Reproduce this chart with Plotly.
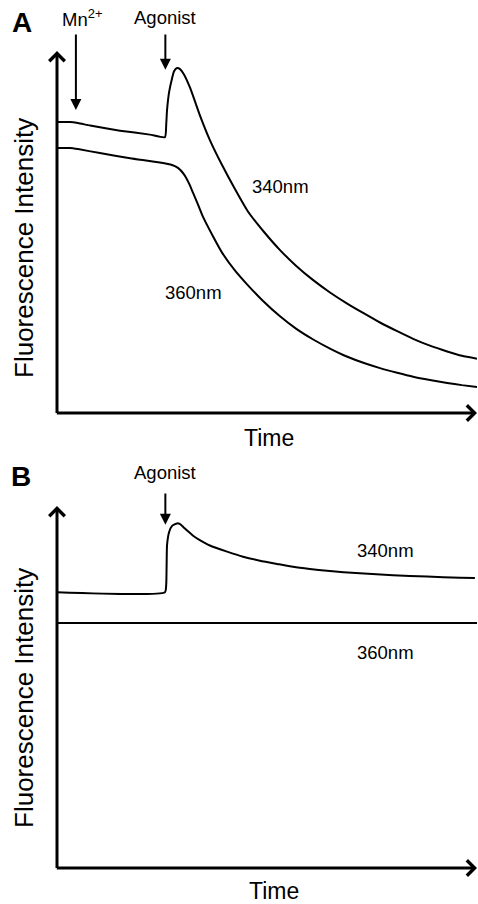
import plotly.graph_objects as go

# ---------------- data (arbitrary units: time 0-100, intensity 0-100) ----------------
# Panel A
tA340 = [0, 3.1, 5.0, 7.9, 15.0, 22.1, 25.7, 26.0, 26.2, 26.7, 27.4, 27.9, 28.6, 29.3, 30.2,
         31.7, 34.0, 36.4, 39.3, 42.4, 45.5, 49.3, 53.1, 56.9, 61.0, 65.0, 69.0, 73.1, 76.9,
         81.0, 84.8, 88.8, 92.9, 96.4, 100]
vA340 = [80.4, 80.4, 80.1, 79.4, 78.0, 76.9, 76.2, 79.6, 83.7, 88.7, 92.5, 94.5, 95.3, 95.0, 93.6,
         89.8, 82.3, 75.4, 68.5, 61.8, 55.6, 50.0, 45.0, 40.7, 36.7, 33.3, 30.3, 27.5, 25.0,
         22.6, 20.5, 18.6, 17.0, 15.8, 15.0]
tA360 = [0, 3.1, 5.0, 10.2, 17.4, 24.5, 27.4, 28.8, 30.2, 31.4, 32.4, 33.6, 34.8, 37.1, 39.3,
         42.4, 45.2, 49.0, 53.1, 56.9, 61.0, 65.0, 69.0, 73.1, 76.9, 81.0, 84.8, 88.8, 92.9,
         96.4, 100]
vA360 = [73.2, 73.2, 72.9, 71.8, 70.4, 69.2, 68.5, 67.7, 66.0, 63.5, 60.8, 57.5, 54.1, 48.9, 44.3,
         39.3, 35.6, 31.0, 26.7, 23.3, 20.3, 17.8, 15.6, 13.8, 12.4, 11.1, 10.0, 9.1, 8.3,
         7.7, 7.2]
# Panel B
tB340 = [0, 25.7, 26.0, 26.1, 26.2, 26.7, 27.4, 28.6, 29.3, 30.0, 31.2, 32.4, 34.0, 36.4, 40.5,
         44.3, 48.3, 52.4, 56.2, 60.2, 64.3, 72.1, 80.0, 88.1, 96.0, 99.5]
vB340 = [76.2, 76.2, 78.2, 83.7, 89.2, 92.8, 94.5, 95.2, 95.0, 94.3, 93.0, 91.8, 90.6, 89.1, 87.4,
         86.0, 84.9, 84.0, 83.2, 82.6, 82.1, 81.4, 80.9, 80.5, 80.2, 80.1]
tB360 = [0, 100]
vB360 = [67.7, 67.7]

# event markers (label, time, arrow head intensity, arrow tail intensity)
mn_time = 4.5
agonist_time = 25.8
eventsA = [("Mn<sup>2+</sup>", mn_time, 83.7, 105.0), ("Agonist", agonist_time, 94.8, 105.0)]
eventsB = [("Agonist", agonist_time, 94.8, 103.9)]

# curve labels: (text, time, intensity)
labelsA = [("340nm", 53.3, 62.7), ("360nm", 32.4, 33.4)]
labelsB = [("340nm", 78.1, 87.8), ("360nm", 78.1, 59.4)]

FONT = "Liberation Sans, Arial, Helvetica, sans-serif"

fig = go.Figure()
line = dict(color="black", width=2, shape="spline", smoothing=0.5)
fig.add_trace(go.Scatter(x=tA340, y=vA340, mode="lines", line=line, xaxis="x", yaxis="y"))
fig.add_trace(go.Scatter(x=tA360, y=vA360, mode="lines", line=line, xaxis="x", yaxis="y"))
fig.add_trace(go.Scatter(x=tB340, y=vB340, mode="lines", line=line, xaxis="x2", yaxis="y2"))
fig.add_trace(go.Scatter(x=tB360, y=vB360, mode="lines", line=dict(color="black", width=2),
                         xaxis="x2", yaxis="y2"))

# panel layout in paper fractions (plot area: x 57..477 px, y 51..868 px)
panels = [
    dict(xr="x", yr="y", letter="A", evs=eventsA, labs=labelsA,
         letter_pos=(-0.0833, 1.0343), time_pos=(0.5048, 0.5263), ytitle_pos=(-0.0786, 0.7589),
         ev_label_y=1.0404),
    dict(xr="x2", yr="y2", letter="B", evs=eventsB, labs=labelsB,
         letter_pos=(-0.0857, 0.4798), time_pos=(0.5167, -0.0282), ytitle_pos=(-0.0786, 0.2081),
         ev_label_y=0.4847),
]

ann = []
for p in panels:
    xr, yr = p["xr"], p["yr"]
    # axes with arrow heads
    ann.append(dict(x=100, y=0, ax=-0.4, ay=0, xref=xr, yref=yr, axref=xr, ayref=yr, text="",
                    showarrow=True, arrowhead=4, arrowwidth=3, arrowsize=1, arrowcolor="black", standoff=0))
    ann.append(dict(x=0, y=100, ax=0, ay=-0.4, xref=xr, yref=yr, axref=xr, ayref=yr, text="",
                    showarrow=True, arrowhead=4, arrowwidth=3, arrowsize=1, arrowcolor="black", standoff=0))
    # panel letter
    ann.append(dict(x=p["letter_pos"][0], y=p["letter_pos"][1], xref="paper", yref="paper",
                    text="<b>%s</b>" % p["letter"], showarrow=False,
                    font=dict(family=FONT, size=28, color="black"), xanchor="center", yanchor="middle"))
    # axis titles
    ann.append(dict(x=p["time_pos"][0], y=p["time_pos"][1], xref="paper", yref="paper", text="Time",
                    showarrow=False, font=dict(family=FONT, size=23, color="black"),
                    xanchor="center", yanchor="middle"))
    ann.append(dict(x=p["ytitle_pos"][0], y=p["ytitle_pos"][1], xref="paper", yref="paper",
                    text="Fluorescence Intensity", showarrow=False, textangle=-90,
                    font=dict(family=FONT, size=26, color="black"), xanchor="center", yanchor="middle"))
    for txt, t, head, tail in p["evs"]:
        ann.append(dict(x=t, y=head, ax=t, ay=tail, xref=xr, yref=yr, axref=xr, ayref=yr, text="",
                        showarrow=True, arrowhead=2, arrowwidth=2, arrowsize=1.1, arrowcolor="black",
                        standoff=0))
        ann.append(dict(x=t, y=p["ev_label_y"], xref=xr, yref="paper", text=txt, showarrow=False,
                        xshift=6 if txt.startswith("Mn") else 0,
                        font=dict(family=FONT, size=18.5, color="black"), xanchor="center", yanchor="middle"))
    for txt, t, v in p["labs"]:
        ann.append(dict(x=t, y=v, xref=xr, yref=yr, text=txt, showarrow=False,
                        font=dict(family=FONT, size=18.5, color="black"), xanchor="center", yanchor="middle"))

ax_common = dict(visible=False, range=[0, 100], fixedrange=True)
fig.update_layout(
    width=478, height=904,
    margin=dict(l=57, r=1, t=51, b=36, pad=0),
    paper_bgcolor="white", plot_bgcolor="white",
    showlegend=False,
    xaxis=dict(domain=[0, 1], anchor="y", **ax_common),
    yaxis=dict(domain=[0.55692, 1], anchor="x", **ax_common),
    xaxis2=dict(domain=[0, 1], anchor="y2", **ax_common),
    yaxis2=dict(domain=[0, 0.44308], anchor="x2", **ax_common),
    annotations=ann,
)
fig.write_html("out.html")
